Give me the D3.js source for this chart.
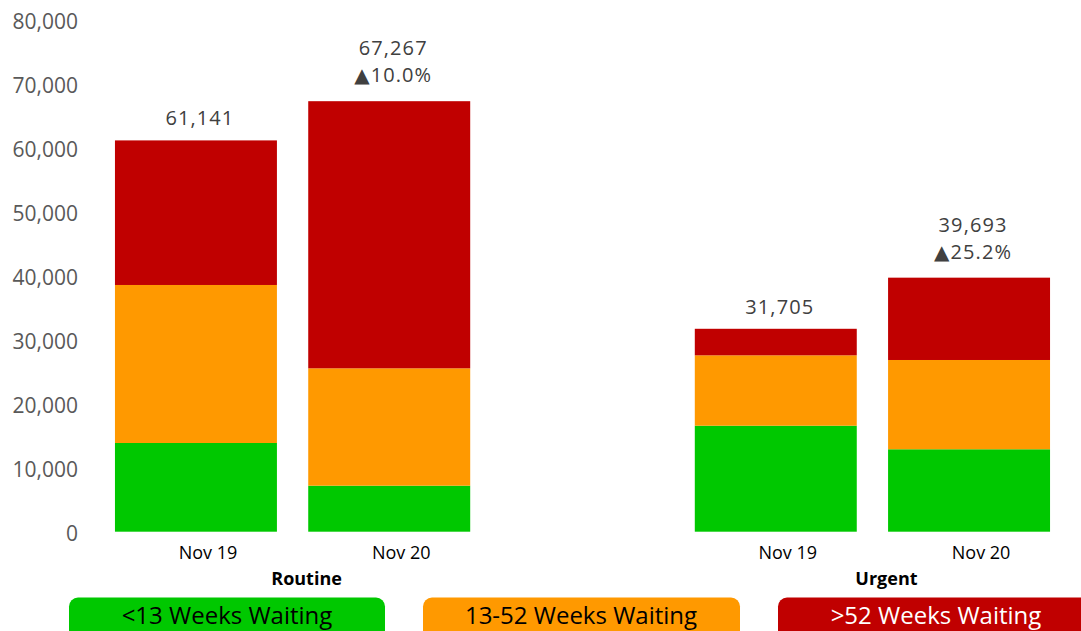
<!DOCTYPE html>
<html>
<head>
<meta charset="utf-8">
<script src="https://cdn.jsdelivr.net/npm/d3@7"></script>
<style>
  html, body { margin: 0; padding: 0; background: #fff; }
  svg { display: block; }
</style>
</head>
<body>
<svg id="chart" width="1081" height="631"></svg>
<script>
// ---- data ----
const categories = ["Nov 19", "Nov 20", "Nov 19", "Nov 20"];
const groups = ["Routine", "Routine", "Urgent", "Urgent"];
const slots = ["R-Nov 19", "R-Nov 20", "gap", "U-Nov 19", "U-Nov 20"];
const barSlots = ["R-Nov 19", "R-Nov 20", "U-Nov 19", "U-Nov 20"];
const under13 = [13860, 7190, 16560, 12880];
const weeks13to52 = [24690, 18340, 11000, 13950];
const over52 = [22591, 41737, 4145, 12863];
const totals = [61141, 67267, 31705, 39693];
const changes = [null, "10.0%", null, "25.2%"];
const seriesNames = ["<13 Weeks Waiting", "13-52 Weeks Waiting", ">52 Weeks Waiting"];
const seriesColors = ["#00C800", "#FF9900", "#C00000"];
const legendTextColors = ["#000000", "#000000", "#FFFFFF"];
const yTicks = [0, 10000, 20000, 30000, 40000, 50000, 60000, 70000, 80000];
const groupNames = ["Routine", "Urgent"];

// ---- build ----
const svg = d3.select("#chart");
const font = "'Open Sans', 'DejaVu Sans', sans-serif";

const y = d3.scaleLinear().domain([0, 80000]).range([531.7, 19.7]);
const x = d3.scaleBand().domain(slots).range([99.3, 1065.7]).paddingInner(0.162).paddingOuter(0.081);

const rows = barSlots.map((s, i) => ({ slot: s, a: under13[i], b: weeks13to52[i], c: over52[i] }));
const stack = d3.stack().keys(["a", "b", "c"])(rows);

// bars
svg.append("g").selectAll("g").data(stack).join("g")
  .attr("fill", (d, i) => seriesColors[i])
  .selectAll("rect").data(d => d).join("rect")
  .attr("x", d => x(d.data.slot))
  .attr("width", x.bandwidth())
  .attr("y", d => y(d[1]))
  .attr("height", d => y(d[0]) - y(d[1]));

// y axis (labels only)
const yAxis = d3.axisLeft(y).tickValues(yTicks).tickFormat(d3.format(",")).tickSize(0).tickPadding(0);
const gy = svg.append("g").attr("transform", "translate(78,2)").call(yAxis);
gy.select(".domain").remove();
gy.selectAll("text").attr("font-family", font).attr("font-size", 21).attr("fill", "#595959");

// x axis category labels
const xAxis = d3.axisBottom(x).tickValues(barSlots).tickFormat((d, i) => categories[barSlots.indexOf(d)]).tickSize(0).tickPadding(0);
const gx = svg.append("g").attr("transform", "translate(12,559)").call(xAxis);
gx.select(".domain").remove();
gx.selectAll("text").attr("font-family", font).attr("font-size", 18).attr("fill", "#000").attr("dy", 0);

// group labels
groupNames.forEach(g => {
  const idx = groups.map((gg, i) => gg === g ? i : -1).filter(i => i >= 0);
  const cx = d3.mean(idx, i => x(barSlots[i]) + x.bandwidth() / 2);
  svg.append("text").attr("x", cx + 14).attr("y", 585)
    .attr("text-anchor", "middle").attr("font-family", font).attr("font-size", 18)
    .attr("font-weight", "bold").attr("fill", "#000").text(g);
});

// total labels
barSlots.forEach((s, i) => {
  const cx = x(s) + x.bandwidth() / 2 + 4;
  const top = y(totals[i]);
  const t = svg.append("text").attr("text-anchor", "middle").attr("font-family", font)
    .attr("font-size", 20).attr("fill", "#404040").attr("letter-spacing", 1.1);
  if (changes[i]) {
    t.append("tspan").attr("x", cx).attr("y", top - 46).text(d3.format(",")(totals[i]));
    t.append("tspan").attr("x", cx).attr("y", top - 19).text("\u25B2" + changes[i]);
  } else {
    t.append("tspan").attr("x", cx).attr("y", top - 15).text(d3.format(",")(totals[i]));
  }
});

// legend
const legendX = [69, 423, 778];
const legendW = [316, 317, 330];
const lg = svg.append("g");
seriesNames.forEach((n, i) => {
  lg.append("rect").attr("x", legendX[i]).attr("y", 597.5).attr("width", legendW[i]).attr("height", 50)
    .attr("rx", 9).attr("ry", 9).attr("fill", seriesColors[i]);
  lg.append("text").attr("x", legendX[i] + 158).attr("y", 624)
    .attr("text-anchor", "middle").attr("font-family", font).attr("font-size", 24)
    .attr("fill", legendTextColors[i]).text(n);
});
</script>
</body>
</html>
